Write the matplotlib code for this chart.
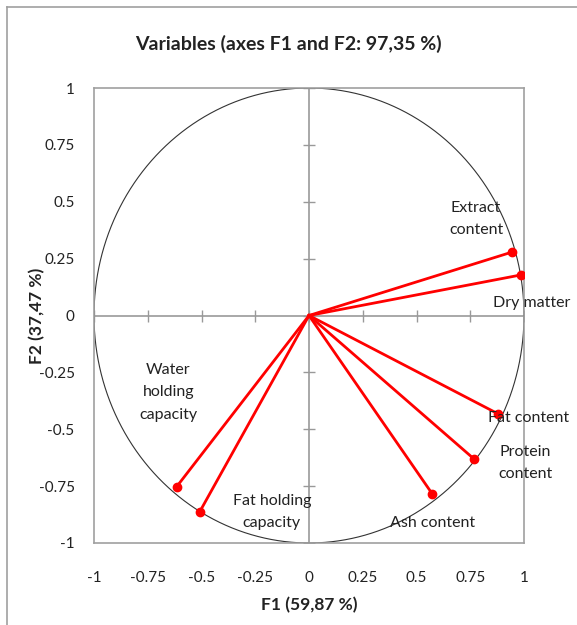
import numpy as np
import matplotlib.pyplot as plt
from matplotlib.lines import Line2D

# PCA loadings
variables = ['Extract\ncontent', 'Dry matter', 'Fat content', 'Protein\ncontent',
             'Ash content', 'Water\nholding\ncapacity', 'Fat holding\ncapacity']
f1 = [0.945, 0.984, 0.881, 0.768, 0.574, -0.616, -0.509]
f2 = [0.279, 0.178, -0.433, -0.631, -0.785, -0.753, -0.864]
ticks = [-1, -0.75, -0.5, -0.25, 0, 0.25, 0.5, 0.75, 1]
tick_labels = ['-1', '-0.75', '-0.5', '-0.25', '0', '0.25', '0.5', '0.75', '1']

# label offsets (points) relative to each point
offsets = [(-26, 24), (8, -20), (22, -3), (37, -3), (0, -21),
           (-6, 68), (52, 0)]

plt.rcParams['font.family'] = ['Lato', 'DejaVu Sans']

fig = plt.figure(figsize=(5.77, 6.25), dpi=100)
ax = fig.add_axes([94 / 577, 1 - 543 / 625, 430 / 577, 455 / 625])

# outer chart border (left and top only visible)
fig.add_artist(Line2D([7 / 577, 7 / 577], [0, 1 - 7 / 625], color='#a0a0a0', lw=1.2,
                      transform=fig.transFigure))
fig.add_artist(Line2D([7 / 577, 1], [1 - 7 / 625, 1 - 7 / 625], color='#a0a0a0', lw=1.2,
                      transform=fig.transFigure))

# unit circle
t = np.linspace(0, 2 * np.pi, 400)
ax.plot(np.cos(t), np.sin(t), color='#333333', lw=0.8, zorder=2)

# zero axes with crossing ticks
ax.axhline(0, color='#999999', lw=1.2, zorder=1)
ax.axvline(0, color='#999999', lw=1.2, zorder=1)
ax.plot(ticks, [0] * len(ticks), ls='none', marker='|', ms=8, mew=1.0, color='#999999', zorder=1)
ax.plot([0] * len(ticks), ticks, ls='none', marker='_', ms=8, mew=1.0, color='#999999', zorder=1)

for name, x, y, (dx, dy) in zip(variables, f1, f2, offsets):
    ax.plot([0, x], [0, y], color='#ff0000', lw=2, zorder=3)
    ax.plot(x, y, 'o', color='#ff0000', ms=6, zorder=4)
    ax.annotate(name, (x, y), xytext=(dx, dy), textcoords='offset points',
                ha='center', va='center', fontsize=11.5, color='#222222',
                linespacing=1.75, zorder=5)

ax.set_xlim(-1, 1)
ax.set_ylim(-1, 1)
ax.set_xticks(ticks)
ax.set_xticklabels(tick_labels)
ax.set_yticks(ticks)
ax.set_yticklabels(tick_labels)
ax.tick_params(length=0, labelsize=11, pad=20, colors='#222222')
ax.tick_params(axis='y', pad=14)
for s in ax.spines.values():
    s.set_color('#a0a0a0')
    s.set_linewidth(1.2)

ax.set_xlabel('F1 (59,87 %)', fontsize=12.5, fontweight='bold', labelpad=9, color='#222222')
ax.set_ylabel('F2 (37,47 %)', fontsize=12.5, fontweight='bold', labelpad=-5, color='#222222')
fig.text(0.5, 1 - 44 / 625, 'Variables (axes F1 and F2: 97,35 %)', ha='center', va='center',
         fontsize=14, fontweight='bold', color='#222222')

fig.savefig('out.png', dpi=100)
